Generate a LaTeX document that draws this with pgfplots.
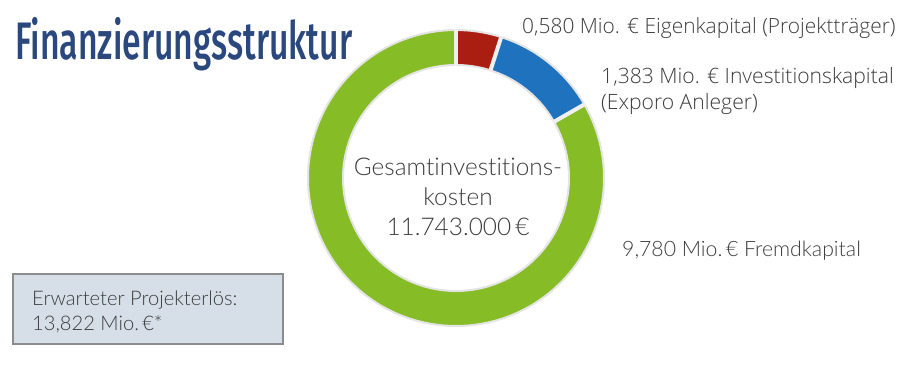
\documentclass[border=0pt]{standalone}
\usepackage{pgfplots}
\pgfplotsset{compat=1.18}
\usepgfplotslibrary{polar}
\usepackage{fontspec}
\setmainfont{Lato}
\newfontfamily\latol[Ligatures=NoCommon]{Lato Light}
\newfontfamily\osl{Open Sans Light}
\newfontfamily\titlef[FakeStretch=0.64]{Fira Sans Medium}
\definecolor{cgreen}{RGB}{134,188,37}
\definecolor{cred}{RGB}{170,30,18}
\definecolor{cblue}{RGB}{30,114,190}
\definecolor{ctitle}{RGB}{42,72,125}
\definecolor{ctext}{RGB}{60,60,60}
\definecolor{cbox}{RGB}{214,223,232}
\definecolor{cboxb}{RGB}{140,140,140}
\definecolor{cring}{RGB}{228,228,228}
% data (Mio. EUR)
\def\vEigen{0.580}
\def\vInvest{1.383}
\def\vFremd{9.780}
\pgfmathsetmacro{\vTotal}{\vEigen+\vInvest+\vFremd}
\pgfmathsetmacro{\aA}{90-\vEigen/\vTotal*360}
\pgfmathsetmacro{\aB}{\aA-\vInvest/\vTotal*360}
\pgfmathsetmacro{\aC}{\aB-\vFremd/\vTotal*360}
\newcommand\PP[2]{({#1*1bp},{(366-#2)*1bp})}
\begin{document}
\begin{tikzpicture}
\useasboundingbox (0,0) rectangle (919bp,366bp);
\begin{polaraxis}[
  at={(456bp,188bp)}, anchor=origin,
  scale only axis, width=296bp, height=296bp,
  ymin=0, ymax=148, hide axis, clip=false,
]
\addplot[cgreen, line width=35bp, domain=\aC:\aB, samples=150] {130.5};
\addplot[cred, line width=35bp, domain=\aA:90, samples=15] {130.5};
\addplot[cblue, line width=35bp, domain=\aB:\aA, samples=30] {130.5};
\addplot[cring, line width=2bp, domain=0:360, samples=181] {148};
\addplot[cring, line width=2bp, domain=0:360, samples=181] {113};
\addplot[cring!60!white, line width=4bp] coordinates {(90,112) (90,149)};
\addplot[cring!60!white, line width=4bp] coordinates {(\aA,112) (\aA,149)};
\addplot[cring!60!white, line width=4bp] coordinates {(\aB,112) (\aB,149)};
\end{polaraxis}
\node[anchor=base west, inner sep=0, text=ctitle, font=\titlef\fontsize{53}{53}\selectfont] at \PP{15}{59} {Finanzierungsstruktur};
\node[anchor=base west, inner sep=0, text=ctext, font=\osl\fontsize{21}{24}\selectfont] at \PP{522}{33} {0,580 Mio. € Eigenkapital (Projektträger)};
\node[anchor=base west, inner sep=0, text=ctext, font=\osl\fontsize{21.2}{24}\selectfont] at \PP{601}{83} {1,383 Mio. € Investitionskapital};
\node[anchor=base west, inner sep=0, text=ctext, font=\osl\fontsize{21.2}{24}\selectfont] at \PP{601}{109} {(Exporo Anleger)};
\node[anchor=base west, inner sep=0, text=ctext, font=\latol\fontsize{21.3}{24}\selectfont] at \PP{622}{256} {9,780 Mio.\,€ Fremdkapital};
\node[anchor=base, inner sep=0, text=ctext, font=\latol\fontsize{24.5}{24}\selectfont] at \PP{458}{175} {Gesamtinvestitions-};
\node[anchor=base, inner sep=0, text=ctext, font=\latol\fontsize{24.5}{24}\selectfont] at \PP{458}{205} {kosten};
\node[anchor=base, inner sep=0, text=ctext, font=\latol\fontsize{24.5}{24}\selectfont] at \PP{458}{235} {11.743.000\,€};
\draw[cboxb, fill=cbox, line width=1.5bp] \PP{13}{274} rectangle \PP{283}{344};
\node[anchor=base west, inner sep=0, text=ctext, font=\latol\fontsize{20.2}{24}\selectfont] at \PP{32}{305} {Erwarteter Projekterlös:};
\node[anchor=base west, inner sep=0, text=ctext, font=\latol\fontsize{20.2}{24}\selectfont] at \PP{32}{330} {13,822 Mio.\,€*};
\end{tikzpicture}
\end{document}
